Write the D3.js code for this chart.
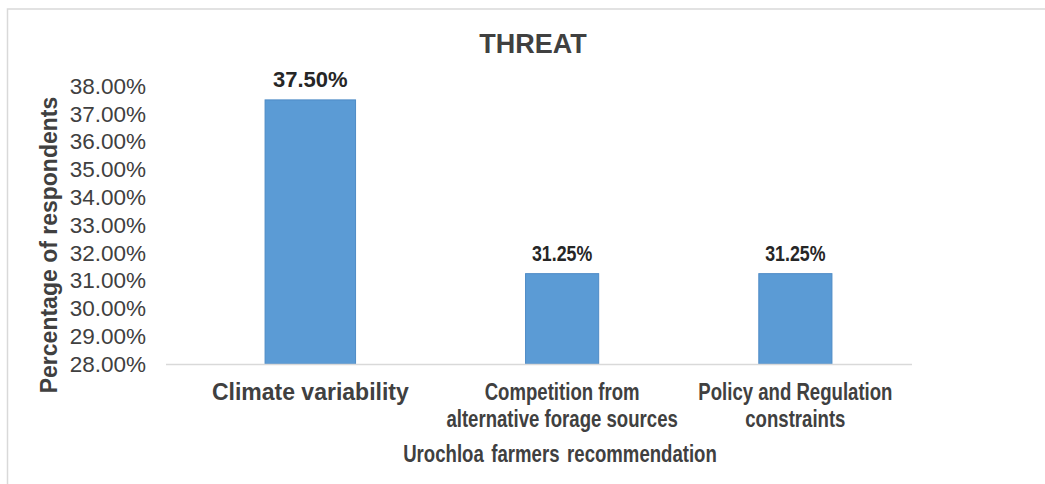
<!DOCTYPE html>
<html>
<head>
<meta charset="utf-8">
<script src="https://cdn.jsdelivr.net/npm/d3@7"></script>
<style>
  html, body { margin: 0; padding: 0; background: #fff; }
  svg { display: block; font-family: "Liberation Sans", Arial, sans-serif; }
</style>
</head>
<body>
<svg id="chart" width="1045" height="484"></svg>
<script>
// ---- data ----
const chartTitle = "THREAT";
const categories = [
  ["Climate variability"],
  ["Competition from", "alternative forage sources"],
  ["Policy and Regulation", "constraints"]
];
const values = [37.50, 31.25, 31.25];           // percent
const yTicks = [28, 29, 30, 31, 32, 33, 34, 35, 36, 37, 38];
const yTitle = "Percentage of respondents";
const xTitle = "Urochloa farmers recommendation";

// ---- layout ----
const svg = d3.select("#chart");
const W = 1045, H = 484;

// chart border (only top/left visible in frame)
svg.append("rect")
  .attr("x", 7.5).attr("y", 9).attr("width", 1100).attr("height", 600)
  .attr("fill", "none").attr("stroke", "#d9d9d9").attr("stroke-width", 1.5);

// horizontal position: category index space -> pixels (right part compressed)
const x = d3.scaleLinear().domain([0, 0.835, 3]).range([166, 407, 912]);
const squeeze = (912 - 407) / ((3 - 0.835) * ((407 - 166) / 0.835));
const y = d3.scaleLinear().domain([28, 38]).range([364, 86]);
const barFrac = 1 / 3.19;  // Excel gap width 219%
const fmt = d => d.toFixed(2) + "%";

function sx(px) { return px < 407 ? 1 : squeeze; }

// title
svg.append("text")
  .attr("x", 533).attr("y", 53)
  .attr("text-anchor", "middle")
  .attr("font-size", 27).attr("font-weight", "bold")
  .attr("fill", "#404040")
  .text(chartTitle);

// y axis tick labels
const yAxis = d3.axisLeft(y).tickValues(yTicks).tickSize(0).tickPadding(0).tickFormat(fmt);
const gy = svg.append("g").attr("transform", "translate(146,0)").call(yAxis);
gy.select(".domain").remove();
gy.selectAll("text")
  .attr("font-size", 22.5)
  .attr("font-family", "'Liberation Sans', Arial, sans-serif")
  .attr("fill", "#404040");

// bars
const bars = svg.append("g");
values.forEach((v, i) => {
  const x0 = x(i + 0.5 - barFrac / 2), x1 = x(i + 0.5 + barFrac / 2);
  bars.append("rect")
    .attr("x", x0).attr("y", y(v))
    .attr("width", x1 - x0).attr("height", y(28) - y(v))
    .attr("fill", "#5b9bd5")
    .attr("stroke", "#4e8bc6").attr("stroke-width", 1);
});

// baseline axis
svg.append("line")
  .attr("x1", x(0)).attr("x2", x(3))
  .attr("y1", y(28) + 0.5).attr("y2", y(28) + 0.5)
  .attr("stroke", "#d9d9d9").attr("stroke-width", 1.5);

// value labels
values.forEach((v, i) => {
  const cx = x(i + 0.5);
  svg.append("text")
    .attr("transform", `translate(${cx},${y(v) - 13}) scale(${sx(cx)},1)`)
    .attr("text-anchor", "middle")
    .attr("font-size", 22).attr("font-weight", "bold")
    .attr("fill", "#262626")
    .text(fmt(v));
});

// category labels
categories.forEach((lines, i) => {
  const cx = x(i + 0.5);
  lines.forEach((t, j) => {
    svg.append("text")
      .attr("transform", `translate(${cx},${400 + j * 26.5}) scale(${sx(cx)},1)`)
      .attr("text-anchor", "middle")
      .attr("font-size", 23).attr("font-weight", "bold")
      .attr("fill", "#404040")
      .text(t);
  });
});

// x axis title
svg.append("text")
  .attr("transform", `translate(560,461.5) scale(${squeeze},1)`)
  .attr("text-anchor", "middle")
  .attr("font-size", 23).attr("font-weight", "bold")
  .attr("fill", "#404040")
  .attr("word-spacing", 3)
  .text(xTitle);

// y axis title
svg.append("text")
  .attr("transform", "translate(57,245) rotate(-90)")
  .attr("text-anchor", "middle")
  .attr("font-size", 23).attr("font-weight", "bold")
  .attr("fill", "#404040")
  .text(yTitle);
</script>
</body>
</html>
